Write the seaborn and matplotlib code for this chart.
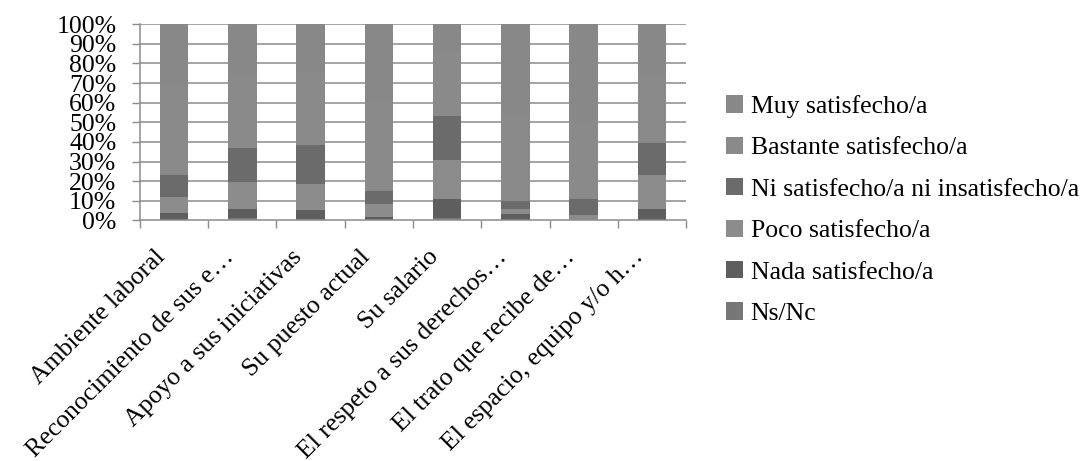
import numpy as np
import pandas as pd
import matplotlib
matplotlib.use("Agg")
import matplotlib.pyplot as plt
import matplotlib.transforms as mtransforms
import seaborn as sns
from matplotlib.patches import Patch

sns.set_theme(style="white")
plt.rcParams['font.family'] = ['Liberation Serif', 'DejaVu Serif']
plt.rcParams['text.color'] = 'black'
plt.rcParams['xtick.labelcolor'] = 'black'
plt.rcParams['ytick.labelcolor'] = 'black'

categories = ["Ambiente laboral", "Reconocimiento de sus e…", "Apoyo a sus iniciativas",
              "Su puesto actual", "Su salario", "El respeto a sus derechos…",
              "El trato que recibe de…", "El espacio, equipo y/o h…"]

# stacked from bottom to top
ns_nc     = [0.0, 1.2, 0.5, 0.0, 1.2, 0.0, 0.0, 0.0]
nada      = [3.7, 4.6, 4.8, 1.7, 9.7, 3.2, 0.0, 5.8]
poco      = [8.2, 13.8, 13.3, 6.6, 19.9, 2.6, 2.7, 17.3]
ni        = [11.2, 17.3, 19.9, 6.6, 22.4, 4.1, 8.2, 16.3]
bastante  = [45.0, 38.0, 37.0, 45.0, 32.0, 45.0, 40.0, 36.0]
muy       = [31.9, 25.1, 24.5, 40.1, 14.8, 45.1, 49.1, 24.6]

series_names = ["Ns/Nc", "Nada satisfecho/a", "Poco satisfecho/a",
                "Ni satisfecho/a ni insatisfecho/a", "Bastante satisfecho/a", "Muy satisfecho/a"]
series_vals = [ns_nc, nada, poco, ni, bastante, muy]
colors = {"Muy satisfecho/a": "#888888", "Bastante satisfecho/a": "#8a8a8a",
          "Ni satisfecho/a ni insatisfecho/a": "#6b6b6b", "Poco satisfecho/a": "#8c8c8c",
          "Nada satisfecho/a": "#5e5e5e", "Ns/Nc": "#777777"}

vals = np.array(series_vals, dtype=float)
totals = vals.sum(axis=0)
pct = vals / totals * 100.0
cum = np.cumsum(pct, axis=0)

fig = plt.figure(figsize=(10.9, 4.61), dpi=100)
ax = fig.add_axes([0.1284, 0.5221, 0.6294 - 0.1284, 0.9473 - 0.5221])

gridc = "#8c8c8c"
for yv in np.arange(10, 101, 10):
    ax.axhline(yv, color=gridc, lw=1.1, zorder=0)

# draw from top-most cumulative to bottom so the stack shows correctly
for i in range(len(series_names) - 1, -1, -1):
    df = pd.DataFrame({"cat": categories, "v": cum[i]})
    sns.barplot(data=df, x="cat", y="v", order=categories, color=colors[series_names[i]],
                width=0.42, linewidth=0, saturation=1, ax=ax, zorder=2, errorbar=None)

ax.set_xlim(-0.5, len(categories) - 0.5)
ax.set_ylim(0, 100)
ax.set_xlabel("")
ax.set_ylabel("")

fs = 18.5
ax.set_yticks(np.arange(0, 101, 10))
ax.set_yticklabels([f"{v}%" for v in range(0, 101, 10)], fontsize=fs)
ax.tick_params(axis="y", direction="out", length=6, width=1, color=gridc, pad=11, left=True)

ax.set_xticks(np.arange(-0.5, len(categories), 1.0))
ax.set_xticklabels([])
ax.tick_params(axis="x", which="major", direction="out", length=6, width=1, color=gridc, bottom=True)
ax.set_xticks(np.arange(len(categories)), minor=True)
ax.set_xticklabels(categories, minor=True, fontsize=fs, rotation=45, ha="right",
                   va="center", rotation_mode="anchor")
ax.tick_params(axis="x", which="minor", length=0, pad=24)
offset = mtransforms.ScaledTranslation(-12 / 100, 0, fig.dpi_scale_trans)
for lab in ax.get_xticklabels(minor=True):
    lab.set_transform(lab.get_transform() + offset)

for s in ["top", "right"]:
    ax.spines[s].set_visible(False)
for s in ["left", "bottom"]:
    ax.spines[s].set_color(gridc)
    ax.spines[s].set_linewidth(1.1)

handles = [Patch(facecolor=colors[n], edgecolor="none") for n in reversed(series_names)]
fig.legend(handles, list(reversed(series_names)), loc="upper left",
           bbox_to_anchor=(0.666, 0.794), frameon=False, fontsize=fs,
           handlelength=0.66, handleheight=0.66, handletextpad=0.3, labelspacing=0.73,
           borderaxespad=0, borderpad=0)

fig.savefig("out.png", dpi=100, facecolor="white")
